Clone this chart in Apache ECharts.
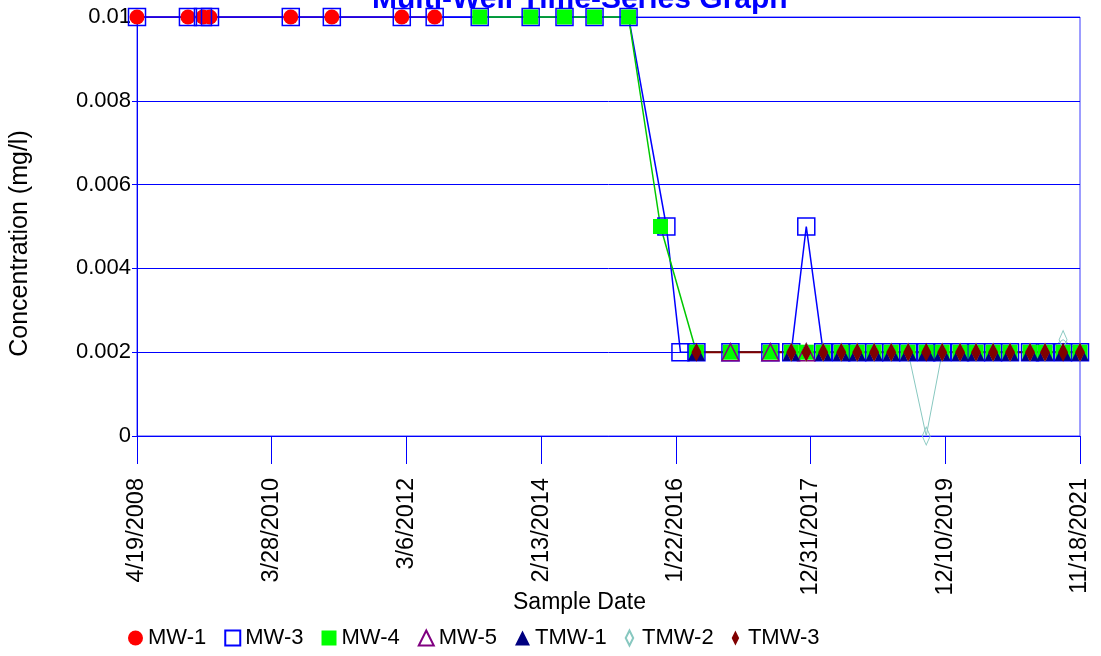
<!DOCTYPE html>
<html><head><meta charset="utf-8">
<script src="https://cdn.jsdelivr.net/npm/echarts@6/dist/echarts.min.js"></script>
<style>html,body{margin:0;padding:0;background:#fff}#c{width:1101px;height:656px}</style>
</head><body><div id="c"></div>
<script>
// ---- data ----
const BASE_DATE = '2008-04-19';
const END_DATE = '2021-11-18';
const xTickCount = 7;
const yTickValues = [0, 0.002, 0.004, 0.006, 0.008, 0.01];
const seriesNames = ['MW-1', 'MW-3', 'MW-4', 'MW-5', 'TMW-1', 'TMW-2', 'TMW-3'];

const mw1Dates = ['2008-04-19','2009-01-12','2009-04-01','2009-05-08','2010-07-07','2011-02-08','2012-02-11','2012-08-02'];
const mw1Values = [0.01,0.01,0.01,0.01,0.01,0.01,0.01,0.01];

const mw3Dates = ['2008-04-19','2009-01-12','2009-04-01','2009-05-08','2010-07-07','2011-02-08','2012-02-11','2012-08-02',
  '2013-03-27','2013-12-20','2014-06-16','2014-11-21','2015-05-19','2015-12-04','2016-02-16','2016-05-10','2016-11-05',
  '2017-06-03','2017-09-21','2017-12-09','2018-03-08','2018-06-11','2018-09-03','2018-12-01','2019-03-01','2019-05-29',
  '2019-09-01','2019-11-24','2020-02-26','2020-05-20','2020-08-18','2020-11-15','2021-02-28','2021-05-18','2021-08-21','2021-11-18'];
const mw3Values = [0.01,0.01,0.01,0.01,0.01,0.01,0.01,0.01,
  0.01,0.01,0.01,0.01,0.01,0.005,0.002,0.002,0.002,
  0.002,0.002,0.005,0.002,0.002,0.002,0.002,0.002,0.002,
  0.002,0.002,0.002,0.002,0.002,0.002,0.002,0.002,0.002,0.002];

const mw4Dates = ['2013-03-27','2013-12-20','2014-06-16','2014-11-21','2015-05-19','2015-11-03','2016-05-10','2016-11-05',
  '2017-06-03','2017-09-21','2017-12-09','2018-03-08','2018-06-11','2018-09-03','2018-12-01','2019-03-01','2019-05-29',
  '2019-09-01','2019-11-24','2020-02-26','2020-05-20','2020-08-18','2020-11-15','2021-02-28','2021-05-18','2021-08-21','2021-11-18'];
const mw4Values = [0.01,0.01,0.01,0.01,0.01,0.005,0.002,0.002,
  0.002,0.002,0.002,0.002,0.002,0.002,0.002,0.002,0.002,
  0.002,0.002,0.002,0.002,0.002,0.002,0.002,0.002,0.002,0.002];

const mw5Dates = ['2016-11-05','2017-06-03','2017-12-09'];
const mw5Values = [0.002,0.002,0.002];

const tmw1Dates = ['2016-05-10','2017-09-21','2018-03-08','2018-06-11','2018-09-03','2018-12-01','2019-03-01','2019-05-29',
  '2019-09-01','2019-11-24','2020-02-26','2020-05-20','2020-08-18','2020-11-15','2021-02-28','2021-05-18','2021-08-21','2021-11-18'];
const tmw1Values = [0.002,0.002,0.002,0.002,0.002,0.002,0.002,0.002,
  0.002,0.002,0.002,0.002,0.002,0.002,0.002,0.002,0.002,0.002];

const tmw2Dates = ['2017-09-21','2017-12-09','2018-03-08','2018-06-11','2018-09-03','2018-12-01','2019-03-01','2019-05-29',
  '2019-09-01','2019-11-24','2020-02-26','2020-05-20','2020-08-18','2020-11-15','2021-02-28','2021-05-18','2021-08-21','2021-11-18'];
const tmw2Values = [0.002,0.002,0.002,0.002,0.002,0.002,0.002,0.002,
  0,0.002,0.002,0.002,0.002,0.002,0.002,0.002,0.0023,0.002];

const tmw3Dates = ['2016-05-10','2017-09-21','2017-12-09','2018-03-08','2018-06-11','2018-09-03','2018-12-01','2019-03-01','2019-05-29',
  '2019-09-01','2019-11-24','2020-02-26','2020-05-20','2020-08-18','2020-11-15','2021-02-28','2021-05-18','2021-08-21','2021-11-18'];
const tmw3Values = [0.002,0.002,0.002,0.002,0.002,0.002,0.002,0.002,0.002,
  0.002,0.002,0.002,0.002,0.002,0.002,0.002,0.002,0.002,0.002];

// ---- helpers ----
const DAY = 86400000;
function utc(s){ const p = s.split('-').map(Number); return Date.UTC(p[0], p[1]-1, p[2]); }
const baseT = utc(BASE_DATE);
function toDays(s){ return Math.round((utc(s) - baseT) / DAY); }
const xMax = toDays(END_DATE);
function fmtDate(v){
  const d = new Date(baseT + Math.floor(v + 1e-6) * DAY);
  return (d.getUTCMonth()+1) + '/' + d.getUTCDate() + '/' + d.getUTCFullYear();
}
function pts(dates, vals){ return dates.map((d,i)=>[toDays(d), vals[i]]); }

const FONT = 'Liberation Sans, Arial, Helvetica, sans-serif';
const CLEAR = 'rgba(0,0,0,0)';

function mk(name, dates, vals, symbol, size, item, line){
  return {
    type: 'line', name, data: pts(dates, vals), symbol, symbolSize: size,
    itemStyle: item, lineStyle: line, emphasis: {disabled: true},
    animation: false, showAllSymbol: true, clip: false
  };
}
const diamondPath = 'path://M5,0L10,10L5,20L0,10Z';

const series = [
  mk(seriesNames[0], mw1Dates, mw1Values, 'circle', 15, {color:'#ff0000'}, {color:'#ff0000', width:1}),
  mk(seriesNames[1], mw3Dates, mw3Values, 'rect', 17, {color:CLEAR, borderColor:'#0000ff', borderWidth:1.5}, {color:'#0000ff', width:1.5}),
  mk(seriesNames[2], mw4Dates, mw4Values, 'rect', 15, {color:'#00ff00'}, {color:'#00c800', width:1.5}),
  mk(seriesNames[3], mw5Dates, mw5Values, 'triangle', 17, {color:CLEAR, borderColor:'#800080', borderWidth:1.5}, {color:'#800080', width:1}),
  mk(seriesNames[4], tmw1Dates, tmw1Values, 'triangle', 17, {color:'#000080'}, {color:'#000080', width:1}),
  mk(seriesNames[5], tmw2Dates, tmw2Values, 'diamond', [8,18], {color:CLEAR, borderColor:'#88c8c0', borderWidth:1}, {color:'#88c8c0', width:1}),
  mk(seriesNames[6], tmw3Dates, tmw3Values, 'diamond', [10,19], {color:'#800000'}, {color:'#800000', width:2})
];

const legendIcons = ['circle','rect','rect','triangle','triangle',diamondPath,diamondPath];

const option = {
  animation: false,
  textStyle: {fontFamily: FONT},
  title: [
    {text: 'Multi-Well Time-Series Graph', left: 372, top: -15, padding: 0,
     textStyle: {color:'#0000ff', fontWeight:'bold', fontSize:30, fontFamily: FONT}},
    {text: 'Sample Date', left: 513, top: 591, padding: 0,
     textStyle: {color:'#000', fontWeight:'normal', fontSize:23, fontFamily: FONT}}
  ],
  legend: {
    left: 128, top: 627, padding: 0, itemWidth: 15, itemHeight: 15, itemGap: 18,
    textStyle: {fontSize: 22, color: '#000', fontFamily: FONT},
    data: seriesNames.map((n,i)=>({name:n, icon: legendIcons[i]}))
  },
  grid: {left: 136, right: 21, top: 17, bottom: 220, show: true, borderColor: '#3a3aff', borderWidth: 1},
  xAxis: {
    type: 'value', min: 0, max: xMax, interval: xMax / xTickCount,
    axisLine: {show: true, lineStyle: {color:'#0000ff', width:1}},
    axisTick: {show: true, length: 28, lineStyle: {color:'#0000ff', width:1}},
    axisLabel: {rotate: 90, margin: 42, fontSize: 23.5, color: '#000', fontFamily: FONT, formatter: fmtDate,
      showMinLabel: true, showMaxLabel: true},
    splitLine: {show: false}
  },
  yAxis: {
    type: 'value', min: yTickValues[0], max: yTickValues[yTickValues.length-1], interval: yTickValues[1]-yTickValues[0],
    axisLine: {show: true, lineStyle: {color:'#0000ff', width:1}},
    axisTick: {show: true, length: 5, lineStyle: {color:'#0000ff', width:1}},
    axisLabel: {margin: 6, fontSize: 22, color: '#000', fontFamily: FONT,
      formatter: v => v === 0 ? '0' : String(+v.toFixed(4))},
    splitLine: {show: true, lineStyle: {color:'#0000ff', width:1}},
    name: 'Concentration (mg/l)', nameLocation: 'middle', nameGap: 104,
    nameTextStyle: {fontSize: 25, color: '#000', fontFamily: FONT, padding: [0, 34, 0, 0]}
  },
  series
};
const chart = echarts.init(document.getElementById('c'), null, {renderer: 'canvas'});
chart.setOption(option);
</script></body></html>
